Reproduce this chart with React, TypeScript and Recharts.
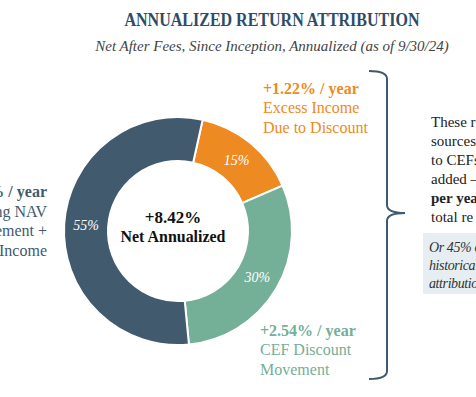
import React from "react";
import { PieChart, Pie, Cell } from "recharts";

const sliceNames = ["Excess Income Due to Discount", "CEF Discount Movement", "Underlying NAV Movement + Income"];
const slicePercents = [15, 30, 55];
const sliceColors = ["#EE8A22", "#74AF97", "#415A6E"];
const sliceReturns = ["+1.22% / year", "+2.54% / year", "+4.66% / year"];
const sliceLines: string[][] = [
  ["Excess Income", "Due to Discount"],
  ["CEF Discount", "Movement"],
  ["Underlying NAV", "Movement +", "Income"],
];
const totalReturn = "+8.42%";
const totalLabel = "Net Annualized";
const titleText = "ANNUALIZED RETURN ATTRIBUTION";
const subtitleText = "Net After Fees, Since Inception, Annualized (as of 9/30/24)";
const sideLines = ["These r", "sources", "to CEFs", "added –", "per yea", "total re"];
const boxLines = ["Or 45% of", "historical", "attribution"];

const data = sliceNames.map((name, i) => ({ name, value: slicePercents[i] }));

const SERIF = "'Liberation Serif', 'DejaVu Serif', serif";
const RADIAN = Math.PI / 180;

const renderPct = (props: any) => {
  const { cx, cy, midAngle, innerRadius, outerRadius, value } = props;
  const r = (innerRadius + outerRadius) / 2;
  const x = cx + r * Math.cos(-midAngle * RADIAN);
  const y = cy + r * Math.sin(-midAngle * RADIAN);
  return (
    <text x={x} y={y} fill="#ffffff" fontFamily={SERIF} fontStyle="italic" fontSize={14} textAnchor="middle" dominantBaseline="central">
      {`${value}%`}
    </text>
  );
};

export default function App() {
  return (
    <div style={{ position: "absolute", left: 0, top: 0, width: 476, height: 397, background: "#ffffff", overflow: "hidden" }}>
      <PieChart width={476} height={397} style={{ position: "absolute", left: 0, top: 0 }}>
        <Pie
          data={data}
          dataKey="value"
          nameKey="name"
          cx={173}
          cy={226}
          innerRadius={70}
          outerRadius={114}
          startAngle={77.5}
          endAngle={-282.5}
          stroke="#ffffff"
          strokeWidth={2}
          labelLine={false}
          label={renderPct}
          isAnimationActive={false}
        >
          {data.map((d, i) => (
            <Cell key={d.name} fill={sliceColors[i]} />
          ))}
        </Pie>
      </PieChart>
      <svg width={476} height={397} style={{ position: "absolute", left: 0, top: 0, pointerEvents: "none" }}>
        <text x={272} y={20} textAnchor="middle" dominantBaseline="central" fontFamily={SERIF} fontWeight="bold" fontSize={18} textLength={295} lengthAdjust="spacingAndGlyphs" fill="#2E4C65">
          {titleText}
        </text>
        <text x={272} y={46} textAnchor="middle" dominantBaseline="central" fontFamily={SERIF} fontStyle="italic" fontSize={15} fill="#444444">
          {subtitleText}
        </text>

        <text x={173} y={217} textAnchor="middle" dominantBaseline="central" fontFamily={SERIF} fontWeight="bold" fontSize={17} fill="#111111">
          {totalReturn}
        </text>
        <text x={173} y={236} textAnchor="middle" dominantBaseline="central" fontFamily={SERIF} fontWeight="bold" fontSize={17} textLength={105} lengthAdjust="spacingAndGlyphs" fill="#111111">
          {totalLabel}
        </text>

        {/* orange annotation */}
        <text x={263} y={88} dominantBaseline="central" fontFamily={SERIF} fontWeight="bold" fontSize={16} fill={sliceColors[0]}>
          {sliceReturns[0]}
        </text>
        {sliceLines[0].map((t, i) => (
          <text key={t} x={263} y={107 + i * 20} dominantBaseline="central" fontFamily={SERIF} fontSize={16} fill={sliceColors[0]}>
            {t}
          </text>
        ))}

        {/* green annotation */}
        <text x={260} y={330} dominantBaseline="central" fontFamily={SERIF} fontWeight="bold" fontSize={16} fill={sliceColors[1]}>
          {sliceReturns[1]}
        </text>
        {sliceLines[1].map((t, i) => (
          <text key={t} x={260} y={349 + i * 20} dominantBaseline="central" fontFamily={SERIF} fontSize={16} fill={sliceColors[1]}>
            {t}
          </text>
        ))}

        {/* dark annotation (cropped at left, as in the reference) */}
        <text x={47} y={191} textAnchor="end" dominantBaseline="central" fontFamily={SERIF} fontWeight="bold" fontSize={16} fill={sliceColors[2]}>
          {sliceReturns[2]}
        </text>
        {sliceLines[2].map((t, i) => (
          <text key={t} x={47} y={211 + i * 19.5} textAnchor="end" dominantBaseline="central" fontFamily={SERIF} fontSize={16} fill={sliceColors[2]}>
            {t}
          </text>
        ))}

        {/* brace */}
        <path
          d="M369 71 Q387 71 387 79 L387 205 Q387 213 405 213 Q387 213 387 221 L387 371 Q387 379 369 379"
          fill="none"
          stroke="#3F5A6E"
          strokeWidth={2}
        />

        {sideLines.map((t, i) => (
          <text key={t} x={431} y={122 + i * 19} dominantBaseline="central" fontFamily={SERIF} fontSize={15} fontWeight={i === 4 ? "bold" : "normal"} fill="#222222">
            {t}
          </text>
        ))}

        <rect x={423} y={233} width={60} height={61} fill="#E6EEF2" />
        {boxLines.map((t, i) => (
          <text key={t} x={429} y={247 + i * 18} dominantBaseline="central" fontFamily={SERIF} fontStyle="italic" fontSize={14} letterSpacing={-0.4} fill="#333333">
            {t}
          </text>
        ))}
      </svg>
    </div>
  );
}
